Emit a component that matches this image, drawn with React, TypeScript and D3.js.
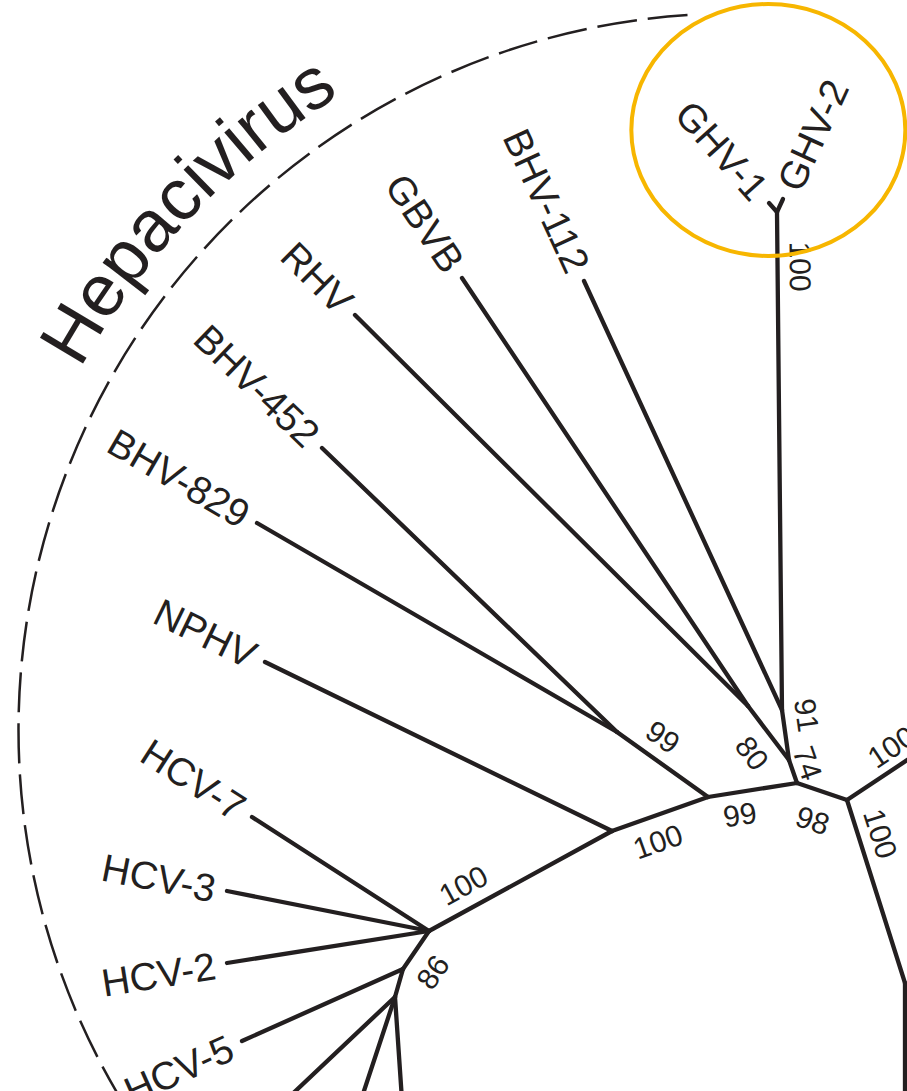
import { useEffect, useRef } from "react";
import * as d3 from "d3";

const W = 907;
const H = 1091;

// unrooted tree layout, in units of 100 px of the figure
const nodeNames = [
  "n0", "n1", "n2", "n3", "GHV-1", "GHV-2", "BHV-112", "n4", "GBVB", "RHV",
  "n5", "n6", "BHV-452", "BHV-829", "n7", "NPHV", "n8", "HCV-7", "HCV-3", "HCV-2",
  "n9", "HCV-5", "n10", "t1", "t2", "t3", "n11", "t4", "n12", "t5",
];
const nodeX = [
  7.97, 7.89, 7.82, 7.77, 7.69, 7.83, 5.84, 7.48, 4.62, 3.55,
  7.08, 6.17, 3.22, 2.57, 6.12, 2.65, 4.29, 2.52, 2.27, 2.27,
  4.03, 2.42, 3.95, 2.86, 3.61, 4.02, 8.47, 9.6, 9.05, 9.05,
];
const nodeY = [
  7.83, 7.6, 7.1, 2.12, 2.03, 1.99, 2.81, 7.06, 2.78, 3.15,
  7.97, 7.32, 4.48, 5.23, 8.31, 6.62, 9.31, 8.17, 8.91, 9.63,
  9.69, 10.41, 9.97, 11.0, 11.0, 11.0, 8.0, 7.25, 9.83, 11.1,
];
const nodeParent = [
  "", "n0", "n1", "n2", "n3", "n3", "n2", "n1", "n4", "n4",
  "n0", "n5", "n6", "n6", "n5", "n7", "n7", "n8", "n8", "n8",
  "n8", "n9", "n9", "n10", "n10", "n10", "n0", "n11", "n11", "n12",
];

// bootstrap support, keyed by the child node of the branch
const bootValues = [100, 91, 74, 80, 99, 99, 98, 100, 100, 86, 100, 100];
const bootBranch = ["n3", "n2", "n1", "n4", "n6", "n5", "n11", "n7", "n8", "n9", "t4", "n12"];
// where the label sits: fraction along the branch, offset across it (px)
const bootAlong = [0.89, 0.83, 0.63, 0.41, 0.64, 0.68, 0.51, 0.61, 0.75, 0.69, 0.49, 0.22];
const bootAcross = [-23, -24, -17, 25, -23, 22, 30, 25, -24, 26, -20, -22];

const cladeName = "Hepacivirus";
const cladeCenter = [7.35, 7.3];
const cladeRadius = 7.165;

const INK = "#231f20";
const FONT = "'Liberation Sans', Arial, Helvetica, sans-serif";

export default function App() {
  const svgRef = useRef<SVGSVGElement>(null);

  useEffect(() => {
    if (!svgRef.current) return;
    const svg = d3.select(svgRef.current);
    svg.selectAll("*").remove();

    const x = d3.scaleLinear().domain([0, 9.07]).range([0, W]);
    const y = d3.scaleLinear().domain([0, 10.91]).range([0, H]);
    const k = x(1) - x(0);

    const nodes = nodeNames.map((name, i) => ({
      name,
      x: x(nodeX[i]),
      y: y(nodeY[i]),
      parent: nodeParent[i],
    }));
    const byName = new Map(nodes.map((n) => [n.name, n]));
    const edges = nodes
      .filter((n) => n.parent)
      .map((n) => ({ source: byName.get(n.parent)!, target: n }));

    const angleOf = (a: { x: number; y: number }, b: { x: number; y: number }) => {
      let deg = (Math.atan2(b.y - a.y, b.x - a.x) * 180) / Math.PI;
      while (deg > 90) deg -= 180;
      while (deg <= -90) deg += 180;
      return deg;
    };

    // dashed clade arc
    const cx = x(cladeCenter[0]);
    const cy = y(cladeCenter[1]);
    const arc = d3.path();
    arc.arc(cx, cy, cladeRadius * k, (-93.8 * Math.PI) / 180, (-212 * Math.PI) / 180, true);
    svg
      .append("path")
      .attr("d", arc.toString())
      .attr("fill", "none")
      .attr("stroke", INK)
      .attr("stroke-width", 2.5)
      .attr("stroke-dasharray", "40 11");

    const labelArc = d3.path();
    labelArc.arc(cx, cy, (cladeRadius + 0.31) * k, (-176.5 * Math.PI) / 180, (-96.5 * Math.PI) / 180, false);
    svg.append("defs").append("path").attr("id", "cladeArc").attr("d", labelArc.toString());
    svg
      .append("text")
      .attr("font-family", FONT)
      .attr("font-size", 73)
      .attr("fill", INK)
      .append("textPath")
      .attr("href", "#cladeArc")
      .attr("startOffset", "50%")
      .attr("text-anchor", "middle")
      .text(cladeName);

    // branches
    svg
      .append("g")
      .selectAll("line")
      .data(edges)
      .join("line")
      .attr("x1", (d) => d.source.x)
      .attr("y1", (d) => d.source.y)
      .attr("x2", (d) => d.target.x)
      .attr("y2", (d) => d.target.y)
      .attr("stroke", INK)
      .attr("stroke-width", 4.3)
      .attr("stroke-linecap", "round");

    // tip labels
    const tips = edges.filter((e) => !/^[nt]\d+$/.test(e.target.name));
    svg
      .append("g")
      .selectAll("text")
      .data(tips)
      .join("text")
      .attr("font-family", FONT)
      .attr("font-size", 39)
      .attr("fill", INK)
      .attr("dy", "0.36em")
      .attr("text-anchor", (d) => (d.target.x < d.source.x ? "end" : "start"))
      .attr("transform", (d) => {
        const dx = d.target.x - d.source.x;
        const dy = d.target.y - d.source.y;
        const len = Math.hypot(dx, dy);
        const px = d.target.x + (dx / len) * 12;
        const py = d.target.y + (dy / len) * 12;
        return `translate(${px},${py}) rotate(${angleOf(d.source, d.target)})`;
      })
      .text((d) => d.target.name);

    // bootstrap values
    const boots = bootValues.map((v, i) => {
      const t = byName.get(bootBranch[i])!;
      const s = byName.get(t.parent)!;
      const a = angleOf(s, t);
      const r = (a * Math.PI) / 180;
      const bx = s.x + (t.x - s.x) * bootAlong[i] - Math.sin(r) * bootAcross[i];
      const by = s.y + (t.y - s.y) * bootAlong[i] + Math.cos(r) * bootAcross[i];
      return { v, bx, by, a };
    });
    svg
      .append("g")
      .selectAll("text")
      .data(boots)
      .join("text")
      .attr("font-family", FONT)
      .attr("font-size", 30)
      .attr("fill", INK)
      .attr("dy", "0.36em")
      .attr("text-anchor", "middle")
      .attr("transform", (d) => `translate(${d.bx},${d.by}) rotate(${d.a})`)
      .text((d) => d.v);

    // highlight round the new GHV pair
    const ghv = nodes.filter((n) => n.name.startsWith("GHV") || n.name === "n3");
    const hx = d3.mean(ghv, (n) => n.x)!;
    const hy = d3.min(ghv, (n) => n.y)!;
    svg
      .append("ellipse")
      .attr("cx", hx - 0.08 * k)
      .attr("cy", hy - 0.69 * k)
      .attr("rx", 1.37 * k)
      .attr("ry", 1.26 * k)
      .attr("fill", "none")
      .attr("stroke", "#f7b600")
      .attr("stroke-width", 4);
  }, []);

  return (
    <svg
      ref={svgRef}
      width={W}
      height={H}
      viewBox={`0 0 ${W} ${H}`}
      style={{ position: "absolute", left: 0, top: 0, background: "#fff" }}
    />
  );
}
